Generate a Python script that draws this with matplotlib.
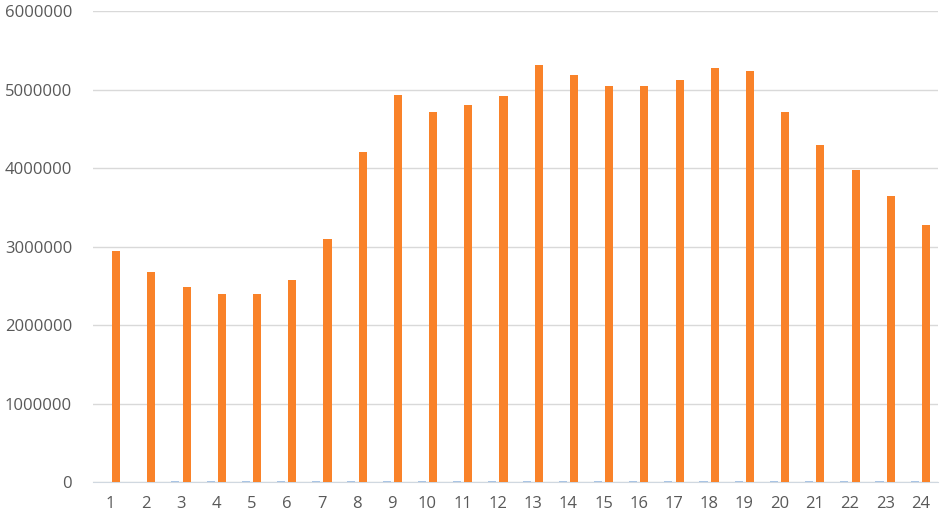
import numpy as np
import matplotlib
matplotlib.use("Agg")
import matplotlib.pyplot as plt

# hourly values (hours 1..24)
hours = [str(h) for h in range(1, 25)]
orange_vals = [2940000, 2670000, 2490000, 2400000, 2390000, 2570000, 3100000, 4200000,
               4930000, 4710000, 4800000, 4920000, 5310000, 5190000, 5040000, 5050000,
               5120000, 5270000, 5230000, 4710000, 4290000, 3970000, 3640000, 3280000]
blue_vals = [0, 0, 9000, 9000, 9000, 9000, 9000, 9000,
             9000, 9000, 9000, 9000, 9000, 9000, 9000, 9000,
             9000, 9000, 9000, 9000, 9000, 9000, 9000, 9000]
y_ticks = [0, 1000000, 2000000, 3000000, 4000000, 5000000, 6000000]

plt.rcParams['font.family'] = ['Open Sans', 'DejaVu Sans']

fig = plt.figure(figsize=(9.41, 5.17), dpi=100)
ax = fig.add_axes([0.0988, 0.0677, 0.898, 0.911])

x = np.arange(len(hours))
w = 0.23
ax.bar(x - 0.16, blue_vals, width=w, color='#a9c4e4', zorder=3)
ax.bar(x + 0.16, orange_vals, width=w, color='#f98229', zorder=3)

ax.set_xlim(-0.5, len(hours) - 0.5)
ax.set_ylim(0, 6000000)
ax.set_xticks(x)
ax.set_xticklabels(hours)
ax.set_yticks(y_ticks)
ax.set_yticklabels([str(v) for v in y_ticks])
ax.yaxis.grid(True, color='#d9d9d9', linewidth=1, zorder=0)
for s in ['top', 'right', 'left']:
    ax.spines[s].set_visible(False)
ax.spines['bottom'].set_color('#d0d8e0')
ax.tick_params(axis='both', length=0, labelsize=12, colors='#595959')
ax.tick_params(axis='y', pad=15)
ax.tick_params(axis='x', pad=10)

fig.savefig("out.png", dpi=100)
